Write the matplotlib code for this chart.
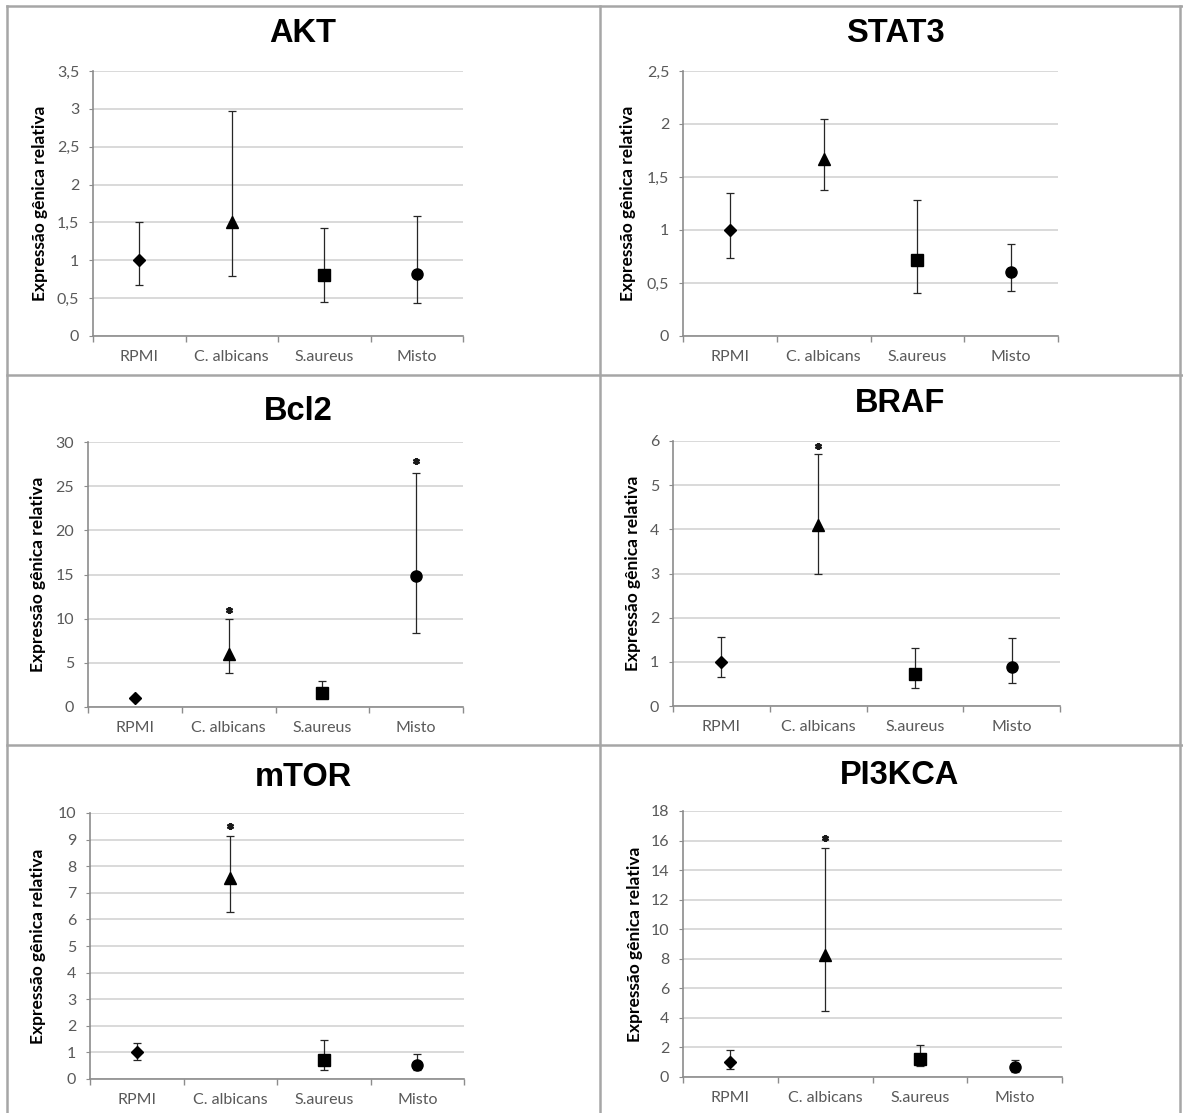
import numpy as np
import matplotlib
matplotlib.use("Agg")
import matplotlib.pyplot as plt
from matplotlib.lines import Line2D
from matplotlib.ticker import FuncFormatter, MultipleLocator

groups = ["RPMI", "C. albicans", "S.aureus", "Misto"]
group_markers = ["D", "^", "s", "o"]

akt_mean = [1.0, 1.51, 0.80, 0.82]
akt_low = [0.67, 0.79, 0.45, 0.43]
akt_high = [1.51, 2.97, 1.42, 1.59]
akt_star = [np.nan, np.nan, np.nan, np.nan]

stat3_mean = [1.0, 1.67, 0.72, 0.60]
stat3_low = [0.74, 1.38, 0.41, 0.42]
stat3_high = [1.35, 2.05, 1.28, 0.87]
stat3_star = [np.nan, np.nan, np.nan, np.nan]

bcl2_mean = [1.0, 6.0, 1.6, 14.8]
bcl2_low = [0.9, 3.8, 1.0, 8.4]
bcl2_high = [1.1, 10.0, 3.0, 26.5]
bcl2_star = [np.nan, 11.0, np.nan, 27.8]

braf_mean = [1.0, 4.1, 0.72, 0.89]
braf_low = [0.66, 3.0, 0.40, 0.53]
braf_high = [1.57, 5.70, 1.32, 1.53]
braf_star = [np.nan, 5.88, np.nan, np.nan]

mtor_mean = [1.0, 7.55, 0.70, 0.53]
mtor_low = [0.73, 6.28, 0.33, 0.33]
mtor_high = [1.35, 9.12, 1.45, 0.94]
mtor_star = [np.nan, 9.5, np.nan, np.nan]

pi3kca_mean = [1.0, 8.25, 1.22, 0.68]
pi3kca_low = [0.56, 4.47, 0.72, 0.34]
pi3kca_high = [1.85, 15.5, 2.15, 1.17]
pi3kca_star = [np.nan, 16.2, np.nan, np.nan]

W, H = 1183, 1113
fig = plt.figure(figsize=(W / 100, H / 100), dpi=100)
fig.patch.set_facecolor("white")

TICK_FONT = "Lato"
GRID = "#d9d9d9"
AXIS = "#8c8c8c"
TXT = "#595959"


def comma_fmt(v, pos):
    s = f"{v:g}"
    return s.replace(".", ",")


def panel(name, mean, low, high, star, ymax, ystep, box, title_xy, ylabel_x):
    left, top, right, bottom = box
    ax = fig.add_axes([left / W, 1 - bottom / H, (right - left) / W, (bottom - top) / H])
    x = np.arange(len(groups)) + 0.5
    mean = np.array(mean)
    yerr = np.vstack([mean - np.array(low), np.array(high) - mean])

    for i in range(len(groups)):
        ax.errorbar(x[i], mean[i], yerr=yerr[:, i:i + 1], fmt="none",
                    ecolor="#262626", elinewidth=0.9, capsize=3, capthick=0.9, zorder=3)
        ms = 6.5 if group_markers[i] == "D" else 8
        ax.plot(x[i], mean[i], marker=group_markers[i], color="black",
                markersize=ms, linestyle="none", zorder=4)
    ax.plot(x, star, marker=(6, 2, 0), color="#1a1a1a", markersize=5,
            markeredgewidth=1.6, linestyle="none", zorder=4)

    ax.set_xlim(0, len(groups))
    ax.set_ylim(0, ymax)
    ax.yaxis.set_major_locator(MultipleLocator(ystep))
    ax.yaxis.set_major_formatter(FuncFormatter(comma_fmt))
    ax.grid(axis="y", color=GRID, linewidth=1.4)
    ax.set_axisbelow(True)

    ax.set_xticks(x)
    ax.set_xticklabels(groups)
    ax.set_xticks(np.arange(len(groups) + 1), minor=True)
    ax.tick_params(axis="x", which="major", length=0, pad=10,
                   labelsize=11.5, labelcolor=TXT)
    ax.tick_params(axis="x", which="minor", length=4, color=AXIS, width=1)
    ax.tick_params(axis="y", length=3, color=AXIS, pad=7,
                   labelsize=11.5, labelcolor=TXT)
    for lab in ax.get_xticklabels() + ax.get_yticklabels():
        lab.set_fontfamily(TICK_FONT)

    for side in ["top", "right"]:
        ax.spines[side].set_visible(False)
    for side in ["left", "bottom"]:
        ax.spines[side].set_color(AXIS)
        ax.spines[side].set_linewidth(1.2)

    fig.text(ylabel_x / W, 1 - (top + bottom) / 2 / H, "Expressão gênica relativa",
             rotation=90, ha="center", va="center", fontsize=12.5,
             fontweight="bold", fontfamily=TICK_FONT, color="black")
    fig.text(title_xy[0] / W, 1 - title_xy[1] / H, name, ha="center", va="center",
             fontsize=23.5, fontweight="bold", fontfamily="Liberation Sans")
    return ax


panel("AKT", akt_mean, akt_low, akt_high, akt_star, 3.5, 0.5,
      (93, 71, 463, 336), (303, 33), 40)
panel("STAT3", stat3_mean, stat3_low, stat3_high, stat3_star, 2.5, 0.5,
      (683, 71, 1058, 336), (895, 33), 628)
panel("Bcl2", bcl2_mean, bcl2_low, bcl2_high, bcl2_star, 30, 5,
      (88, 442, 463, 707), (298, 412), 38)
panel("BRAF", braf_mean, braf_low, braf_high, braf_star, 6, 1,
      (673, 441, 1060, 706), (900, 403), 633)
panel("mTOR", mtor_mean, mtor_low, mtor_high, mtor_star, 10, 1,
      (90, 813, 464, 1079), (303, 777), 38)
panel("PI3KCA", pi3kca_mean, pi3kca_low, pi3kca_high, pi3kca_star, 18, 2,
      (683, 811, 1062, 1077), (900, 775), 635)

# panel frame lines
BORDER = "#a6a6a6"
frame = [
    ((7, 7), (6, H)),
    ((600, 600), (6, H)),
    ((1180, 1180), (6, H)),
    ((7, 1183), (6, 6)),
    ((7, 1183), (375, 375)),
    ((7, 1183), (745, 745)),
]
for xs, ys in frame:
    fig.add_artist(Line2D([v / W for v in xs], [1 - v / H for v in ys],
                          color=BORDER, linewidth=1.8))

fig.savefig("out.png", dpi=100)
